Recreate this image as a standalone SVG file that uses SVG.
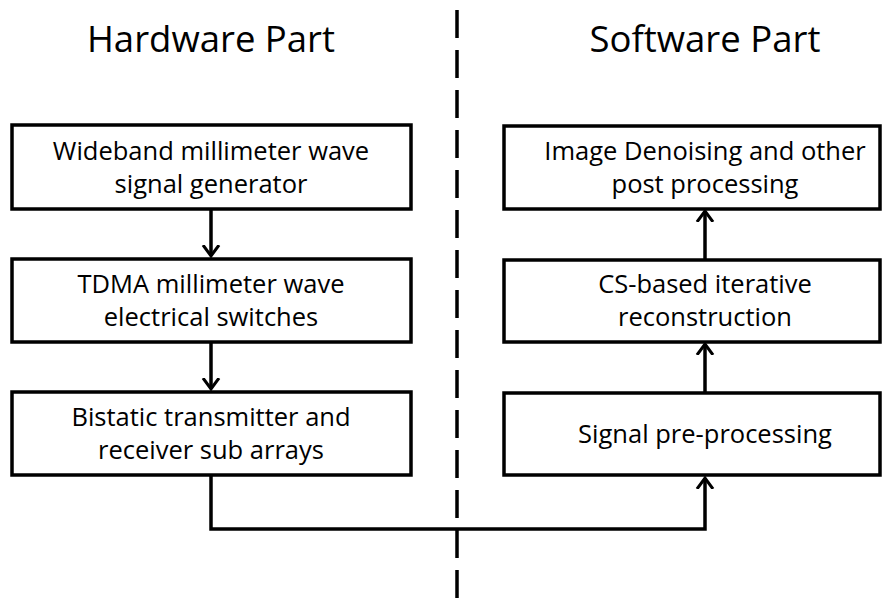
<svg xmlns="http://www.w3.org/2000/svg" width="893" height="599" viewBox="0 0 893 599">
<style>
.box{fill:#fff;stroke:#000;stroke-width:3.5}
.t{font-family:"Open Sans","Liberation Sans",sans-serif;font-size:25.5px;text-anchor:middle;fill:#000}
.h{font-family:"Open Sans","Liberation Sans",sans-serif;font-size:36.5px;text-anchor:middle;fill:#000}
.c{fill:none;stroke:#000;stroke-width:3.5}
</style>
<defs>
<marker id="ah" markerUnits="userSpaceOnUse" markerWidth="22" markerHeight="22" viewBox="-11 -11 22 22" refX="0" refY="0" orient="auto">
<path d="M-11,-8 L0,0 L-11,8" fill="none" stroke="#000" stroke-width="3"/>
</marker>
</defs>
<rect width="893" height="599" fill="#fff"/>
<line x1="457" y1="10" x2="457" y2="599" stroke="#000" stroke-width="3.5" stroke-dasharray="28 12"/>
<text class="h" x="211" y="52">Hardware Part</text>
<text class="h" x="705" y="52">Software Part</text>
<g id="connectors">
<line class="c" x1="211" y1="210" x2="211" y2="256" marker-end="url(#ah)"/>
<line class="c" x1="211" y1="343" x2="211" y2="389" marker-end="url(#ah)"/>
<line class="c" x1="705" y1="392" x2="705" y2="344" marker-end="url(#ah)"/>
<line class="c" x1="705" y1="259" x2="705" y2="211" marker-end="url(#ah)"/>
<polyline class="c" points="211,476 211,529 705,529 705,478" marker-end="url(#ah)"/>
</g>
<g id="n1"><rect class="box" x="12" y="125" width="399" height="84"/><text class="t" x="211" y="160">Wideband millimeter wave</text><text class="t" x="211" y="193">signal generator</text></g>
<g id="n2"><rect class="box" x="12" y="259" width="399" height="83"/><text class="t" x="211" y="293">TDMA millimeter wave</text><text class="t" x="211" y="326">electrical switches</text></g>
<g id="n3"><rect class="box" x="12" y="392" width="399" height="83"/><text class="t" x="211" y="426">Bistatic transmitter and</text><text class="t" x="211" y="459">receiver sub arrays</text></g>
<g id="n4"><rect class="box" x="504" y="126" width="376" height="83"/><text class="t" x="705" y="160">Image Denoising and other</text><text class="t" x="705" y="193">post processing</text></g>
<g id="n5"><rect class="box" x="504" y="260" width="376" height="82"/><text class="t" x="705" y="293">CS-based iterative</text><text class="t" x="705" y="326">reconstruction</text></g>
<g id="n6"><rect class="box" x="504" y="393" width="376" height="82"/><text class="t" x="705" y="443">Signal pre-processing</text></g>
</svg>
